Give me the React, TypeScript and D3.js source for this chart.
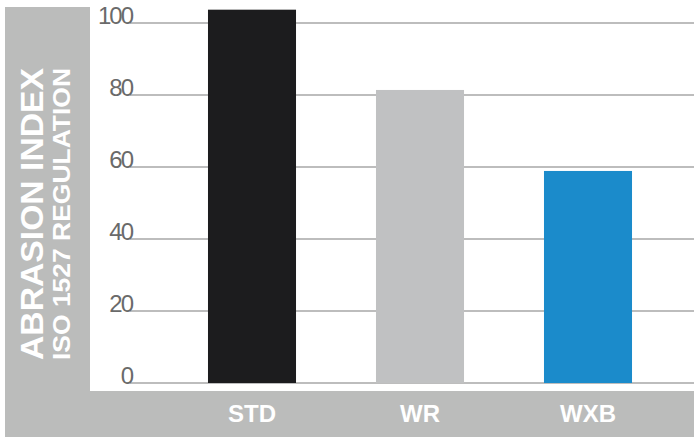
import React from "react";
import * as d3 from "d3";

const categories = ["STD", "WR", "WXB"];
const values = [103.7, 81.4, 58.9];
const barColors = ["#1c1c1e", "#c0c1c2", "#1b8bcb"];
const yTicks = [0, 20, 40, 60, 80, 100];
const titleMain = "ABRASION INDEX";
const titleSub = "ISO 1527 REGULATION";

const W = 694;
const H = 437;

export default function App() {
  const y = d3.scaleLinear().domain([0, 100]).range([383, 23]);
  const x = d3
    .scaleBand<string>()
    .domain(categories)
    .range([168, 672])
    .paddingInner(0.476)
    .paddingOuter(0.238);

  const font = "'Liberation Sans', Arial, Helvetica, sans-serif";

  return (
    <svg
      width={W}
      height={H}
      style={{ position: "absolute", left: 0, top: 0, display: "block" }}
      fontFamily={font}
    >
      <rect x={0} y={0} width={W} height={H} fill="#ffffff" />
      <rect x={5} y={7} width={W - 5} height={H - 7} fill="#bbbcbb" />
      <rect x={90} y={0} width={W - 90} height={391} fill="#ffffff" />

      {yTicks.map((t) => (
        <g key={t}>
          <line
            x1={130}
            x2={W}
            y1={y(t)}
            y2={y(t)}
            stroke="#bdbdbd"
            strokeWidth={2}
          />
          <text
            x={132}
            y={y(t) + 1}
            textAnchor="end"
            fontSize={24}
            letterSpacing={-2}
            fill="#6a6a6a"
          >
            {t}
          </text>
        </g>
      ))}

      {categories.map((c, i) => (
        <rect
          key={c}
          x={x(c)}
          y={y(values[i])}
          width={x.bandwidth()}
          height={y(0) - y(values[i])}
          fill={barColors[i]}
        />
      ))}

      {categories.map((c) => (
        <text
          key={c}
          x={(x(c) as number) + x.bandwidth() / 2}
          y={422}
          textAnchor="middle"
          fontSize={24}
          fontWeight="bold"
          fill="#ffffff"
        >
          {c}
        </text>
      ))}

      <text
        transform="translate(43,214) rotate(-90)"
        textAnchor="middle"
        fontSize={31}
        fontWeight="bold"
        fill="#ffffff"
        textLength={292}
        lengthAdjust="spacingAndGlyphs"
      >
        {titleMain}
      </text>
      <text
        transform="translate(70,214) rotate(-90)"
        textAnchor="middle"
        fontSize={23}
        fontWeight="bold"
        fill="#ffffff"
        textLength={292}
        lengthAdjust="spacingAndGlyphs"
      >
        {titleSub}
      </text>
    </svg>
  );
}
